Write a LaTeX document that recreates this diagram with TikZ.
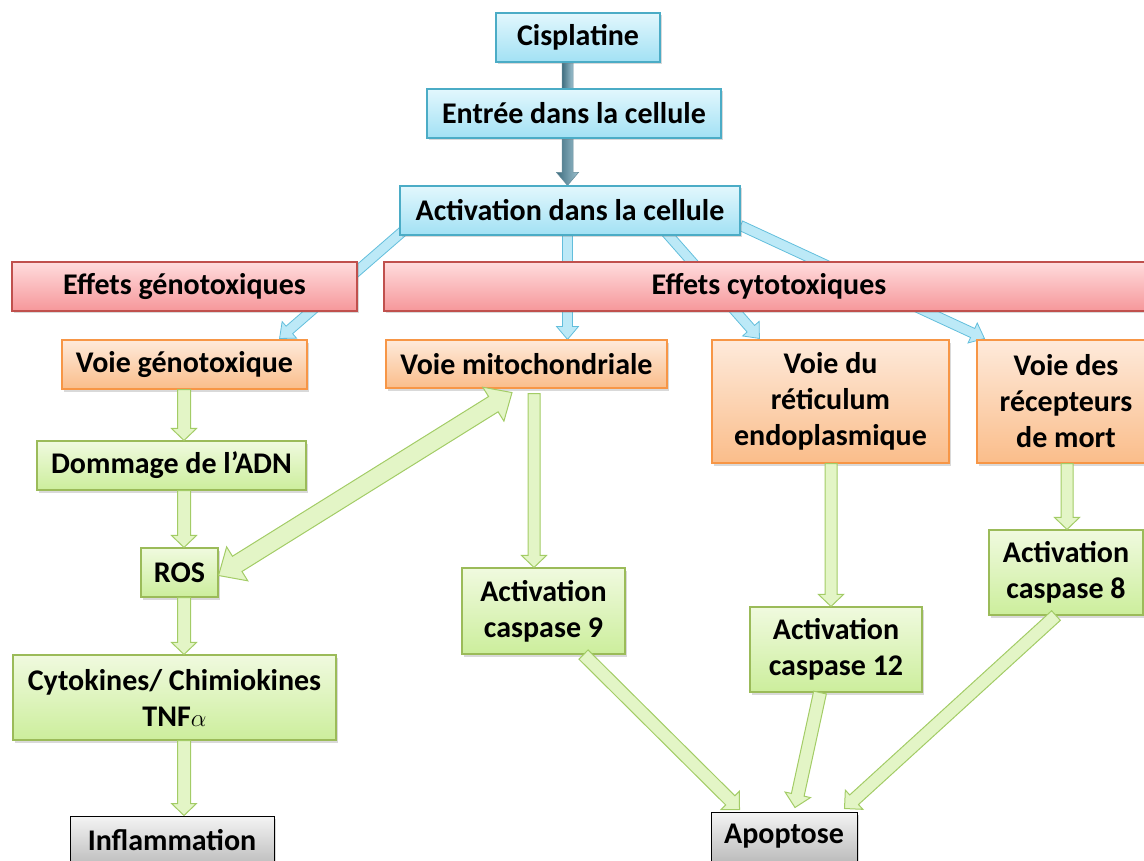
\documentclass[tikz,border=0pt]{standalone}
\usepackage{fontspec}
\setmainfont{Carlito}
\usetikzlibrary{calc,shadows}
\pgfdeclarelayer{bg}
\pgfsetlayers{bg,main}
\definecolor{bluet}{HTML}{E2F7FD}
\definecolor{blueb}{HTML}{A2E1F4}
\definecolor{bluebd}{HTML}{4BACC6}
\definecolor{redt}{HTML}{FFDCDD}
\definecolor{redb}{HTML}{F6979A}
\definecolor{redbd}{HTML}{C0504D}
\definecolor{oranget}{HTML}{FEEADB}
\definecolor{orangeb}{HTML}{FABD8A}
\definecolor{orangebd}{HTML}{F79646}
\definecolor{greent}{HTML}{F0FADF}
\definecolor{greenb}{HTML}{CCEE9C}
\definecolor{greenbd}{HTML}{9BBB59}
\definecolor{grayt}{HTML}{F4F4F4}
\definecolor{grayb}{HTML}{BDBDBD}
\definecolor{garrowfill}{HTML}{E3F5C6}
\definecolor{garrowbd}{HTML}{A3CC66}
\definecolor{barrowfill}{HTML}{BCE9F7}
\definecolor{barrowbd}{HTML}{62BEDC}
\definecolor{darkl}{HTML}{3F6E80}
\definecolor{darkr}{HTML}{9CC0CE}
\tikzset{
  box/.style={rectangle, align=center, inner sep=0pt, line width=1.1pt,
    font=\bfseries\fontsize{30}{36}\selectfont,
    drop shadow={shadow xshift=2pt,shadow yshift=-2.5pt,opacity=0.3}},
  bluebox/.style={box, draw=bluebd, top color=bluet, bottom color=blueb},
  redbox/.style={box, draw=redbd, top color=redt, bottom color=redb},
  orangebox/.style={box, draw=orangebd, top color=oranget, bottom color=orangeb},
  greenbox/.style={box, draw=greenbd, top color=greent, bottom color=greenb},
  graybox/.style={box, draw=black, line width=1pt, top color=grayt, bottom color=grayb},
  garrow/.style={draw=garrowbd, fill=garrowfill, line width=1pt, line join=miter},
  barrow/.style={draw=barrowbd, fill=barrowfill, line width=0.8pt, line join=miter},
  darrow/.style={left color=darkl, right color=darkr, draw=darkl!80, line width=0.5pt},
}
% single headed block arrow: #1 style, #2 start, #3 tip, #4 half shaft, #5 half head, #6 head length
\newcommand\blkarrow[6][]{%
  \path (#2) coordinate (bA) (#3) coordinate (bB);
  \path ($(bB)!#6!(bA)$) coordinate (bH);
  \draw[#1] ($(bA)!#4!90:(bB)$) -- ($(bH)!#4!90:(bB)$) -- ($(bH)!#5!90:(bB)$) -- (bB)
    -- ($(bH)!#5!-90:(bB)$) -- ($(bH)!#4!-90:(bB)$) -- ($(bA)!#4!-90:(bB)$) -- cycle;
}
% double headed block arrow
\newcommand\dblarrow[6][]{%
  \path (#2) coordinate (bA) (#3) coordinate (bB);
  \path ($(bA)!#6!(bB)$) coordinate (bH1) ($(bB)!#6!(bA)$) coordinate (bH2);
  \draw[#1] (bA) -- ($(bH1)!#5!90:(bB)$) -- ($(bH1)!#4!90:(bB)$) -- ($(bH2)!#4!-90:(bA)$)
    -- ($(bH2)!#5!-90:(bA)$) -- (bB) -- ($(bH2)!#5!90:(bA)$) -- ($(bH2)!#4!90:(bA)$)
    -- ($(bH1)!#4!-90:(bB)$) -- ($(bH1)!#5!-90:(bB)$) -- cycle;
}
\begin{document}
\begin{tikzpicture}[x=1pt,y=-1pt]
\useasboundingbox (0,0) rectangle (1144,861);
\clip (0,0) rectangle (1144,861);
% nodes
\node[bluebox, minimum width=164pt, minimum height=49pt] (cis) at (578,37.5) {Cisplatine};
\node[bluebox, minimum width=294pt, minimum height=49pt] (ent) at (574,113.5) {Entrée dans la cellule};
\node[bluebox, minimum width=340pt, minimum height=49pt] (act) at (570,210.5) {Activation dans la cellule};
\node[redbox, minimum width=345pt, minimum height=49pt] (eg) at (184.5,286.5) {Effets génotoxiques};
\node[redbox, minimum width=770pt, minimum height=49pt] (ec) at (769,286.5) {Effets cytotoxiques};
\node[orangebox, minimum width=245pt, minimum height=49pt] (vg) at (184.5,364.5) {Voie génotoxique};
\node[orangebox, minimum width=281pt, minimum height=48pt] (vm) at (526.5,364) {Voie mitochondriale};
\node[orangebox, minimum width=237pt, minimum height=123pt] (vr) at (830.5,401.5) {Voie du\\réticulum\\endoplasmique};
\node[orangebox, minimum width=178pt, minimum height=123pt] (vd) at (1066,401.5) {Voie des\\récepteurs\\de mort};
\node[greenbox, minimum width=269pt, minimum height=49pt] (dom) at (171.5,465.5) {Dommage de l’ADN};
\node[greenbox, minimum width=77pt, minimum height=49pt] (ros) at (179.5,572.5) {ROS};
\node[greenbox, minimum width=323pt, minimum height=85pt] (cyt) at (174.5,697.5) {Cytokines/ Chimiokines\\TNF$\alpha$};
\node[graybox, minimum width=204pt, minimum height=49pt] (inf) at (172,840.5) {Inflammation};
\node[greenbox, minimum width=163pt, minimum height=86pt] (c9) at (543.5,611) {Activation\\caspase 9};
\node[greenbox, minimum width=172pt, minimum height=85pt] (c12) at (836,649.5) {Activation\\caspase 12};
\node[greenbox, minimum width=154pt, minimum height=85pt] (c8) at (1066,572.5) {Activation\\caspase 8};
\node[graybox, minimum width=146pt, minimum height=49pt] (apo) at (784,836.5) {Apoptose};
% helper columns
\coordinate (xd) at (567.5,0);
\coordinate (xg) at (184,0);
\coordinate (m9) at ($(vm.south)+(7.5,5)$);
\coordinate (xr) at (831,0);
\coordinate (xm) at (1067,0);
\begin{pgfonlayer}{bg}
  % dark arrows
  \blkarrow[darrow]{cis.south -| xd}{ent.north -| xd}{5.5pt}{5.5pt}{0.1pt}
  \blkarrow[darrow]{ent.south -| xd}{act.north -| xd}{5.5pt}{11pt}{13pt}
  % blue arrows
  \blkarrow[barrow]{$(act.south west)+(10,-10)$}{$(vg.north east)+(-28,-1)$}{5pt}{11pt}{13pt}
  \blkarrow[barrow]{act.south -| xd}{vm.north -| xd}{5pt}{11pt}{13pt}
  \blkarrow[barrow]{$(act.south)+(90,-10)$}{$(vr.north west)+(48,-1)$}{5pt}{11pt}{13pt}
  \blkarrow[barrow]{$(act.south east)+(0,-10)$}{$(vd.north west)+(8,-1)$}{5pt}{11pt}{13pt}
\end{pgfonlayer}
% green arrows
\blkarrow[garrow]{vg.south -| xg}{dom.north -| xg}{6.5pt}{12.5pt}{12pt}
\blkarrow[garrow]{dom.south -| xg}{ros.north -| xg}{6.5pt}{12.5pt}{12pt}
\blkarrow[garrow]{ros.south -| xg}{cyt.north -| xg}{6.5pt}{12.5pt}{12pt}
\blkarrow[garrow]{cyt.south -| xg}{inf.north -| xg}{6.5pt}{12.5pt}{12pt}
\dblarrow[garrow]{$(ros.east)+(0,3)$}{$(vm.south)+(-14.5,4)$}{9pt}{20pt}{22pt}
\blkarrow[garrow]{m9}{c9.north -| m9}{6pt}{12.5pt}{12pt}
\blkarrow[garrow]{vr.south -| xr}{c12.north -| xr}{6pt}{12.5pt}{12pt}
\blkarrow[garrow]{vd.south -| xm}{c8.north -| xm}{6pt}{12.5pt}{12pt}
\blkarrow[garrow]{$(c9.south)+(40,0)$}{$(apo.north west)+(29,-2)$}{6.5pt}{13pt}{13pt}
\blkarrow[garrow]{$(c12.south)+(-16,0)$}{$(apo.north)+(11,-4)$}{6.5pt}{13pt}{13pt}
\blkarrow[garrow]{$(c8.south)+(-10,0)$}{$(apo.north east)+(-13,-3)$}{6.5pt}{13pt}{13pt}
\end{tikzpicture}
\end{document}
